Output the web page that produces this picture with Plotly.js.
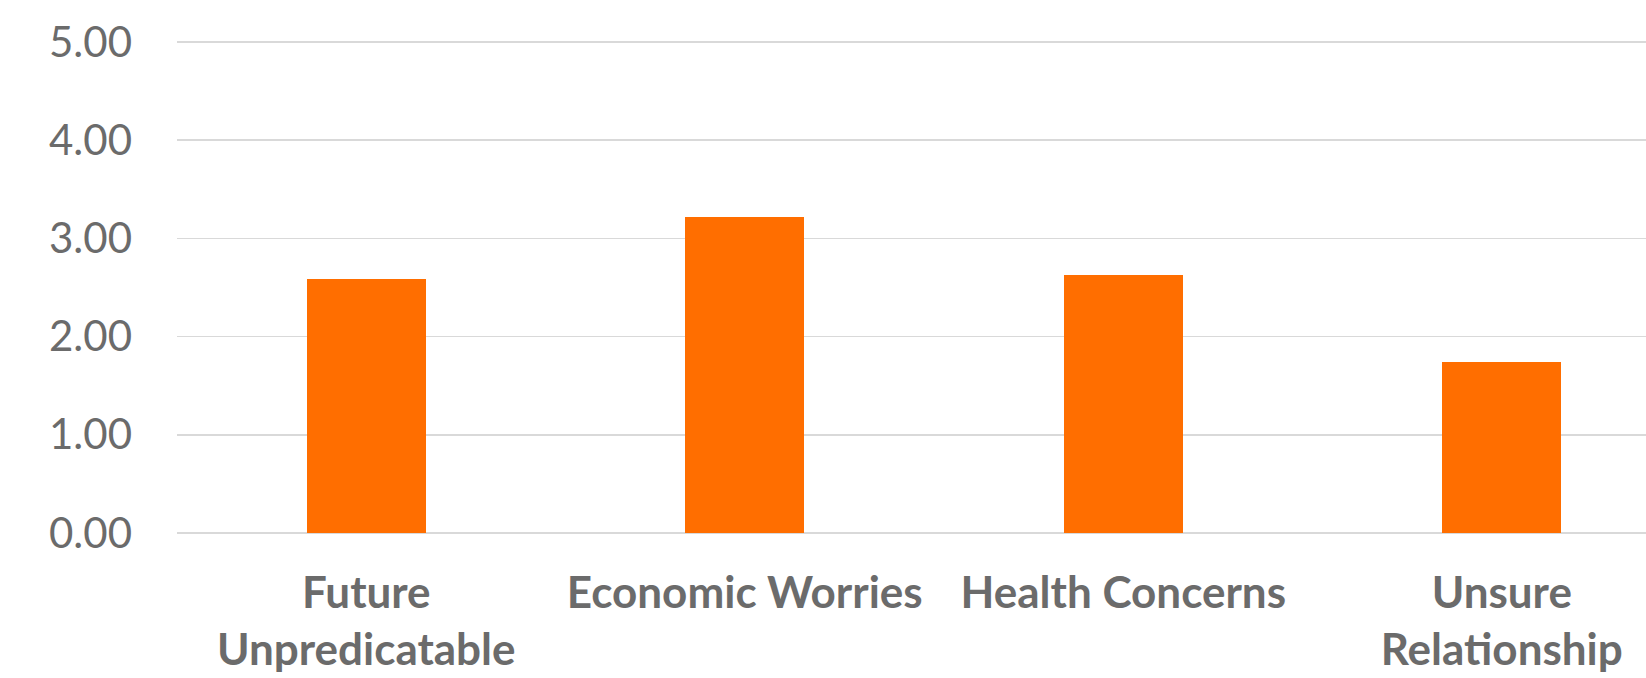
<!DOCTYPE html>
<html>
<head>
<meta charset="utf-8">
<script src="https://cdn.plot.ly/plotly-3.0.1.min.js"></script>
<style>
html,body{margin:0;padding:0;background:#fff;}
#chart{width:1646px;height:678px;}
</style>
</head>
<body>
<div id="chart"></div>
<script>
const categories = ["Future<br>Unpredicatable", "Economic Worries", "Health Concerns", "Unsure<br>Relationship"];
const values = [2.59, 3.215, 2.627, 1.745];
const yTickValues = [0, 1, 2, 3, 4, 5];
const yTickLabels = ["0.00", "1.00", "2.00", "3.00", "4.00", "5.00"];

const trace = {
  type: "bar",
  x: [0, 1, 2, 3],
  y: values,
  width: 0.314,
  marker: {color: "#FF6E00"},
  hoverinfo: "skip"
};

const layout = {
  width: 1646,
  height: 678,
  margin: {l: 177, r: 0, t: 32, b: 145, pad: 0},
  paper_bgcolor: "#ffffff",
  plot_bgcolor: "#ffffff",
  showlegend: false,
  bargap: 0,
  font: {family: "Lato, 'Open Sans', sans-serif", color: "#6b6b6b"},
  xaxis: {
    range: [-0.5, 3.381],
    tickmode: "array",
    tickvals: [0, 1, 2, 3],
    ticktext: categories,
    showgrid: false,
    zeroline: false,
    showline: false,
    ticks: "",
    ticklabelstandoff: 30,
    tickfont: {family: "Lato, 'Open Sans', sans-serif", size: 44, color: "#6b6b6b", weight: "bold"},
    fixedrange: true
  },
  yaxis: {
    range: [0, 5.1],
    tickmode: "array",
    tickvals: yTickValues,
    ticktext: yTickLabels,
    showgrid: true,
    gridcolor: "#d9d9d9",
    gridwidth: 1.5,
    zeroline: true,
    zerolinecolor: "#d9d9d9",
    zerolinewidth: 1.5,
    showline: false,
    ticks: "",
    ticklabelstandoff: 44,
    tickfont: {family: "Lato, 'Open Sans', sans-serif", size: 42, color: "#6b6b6b"},
    fixedrange: true
  }
};

Plotly.newPlot("chart", [trace], layout, {displayModeBar: false, staticPlot: true});
</script>
</body>
</html>
